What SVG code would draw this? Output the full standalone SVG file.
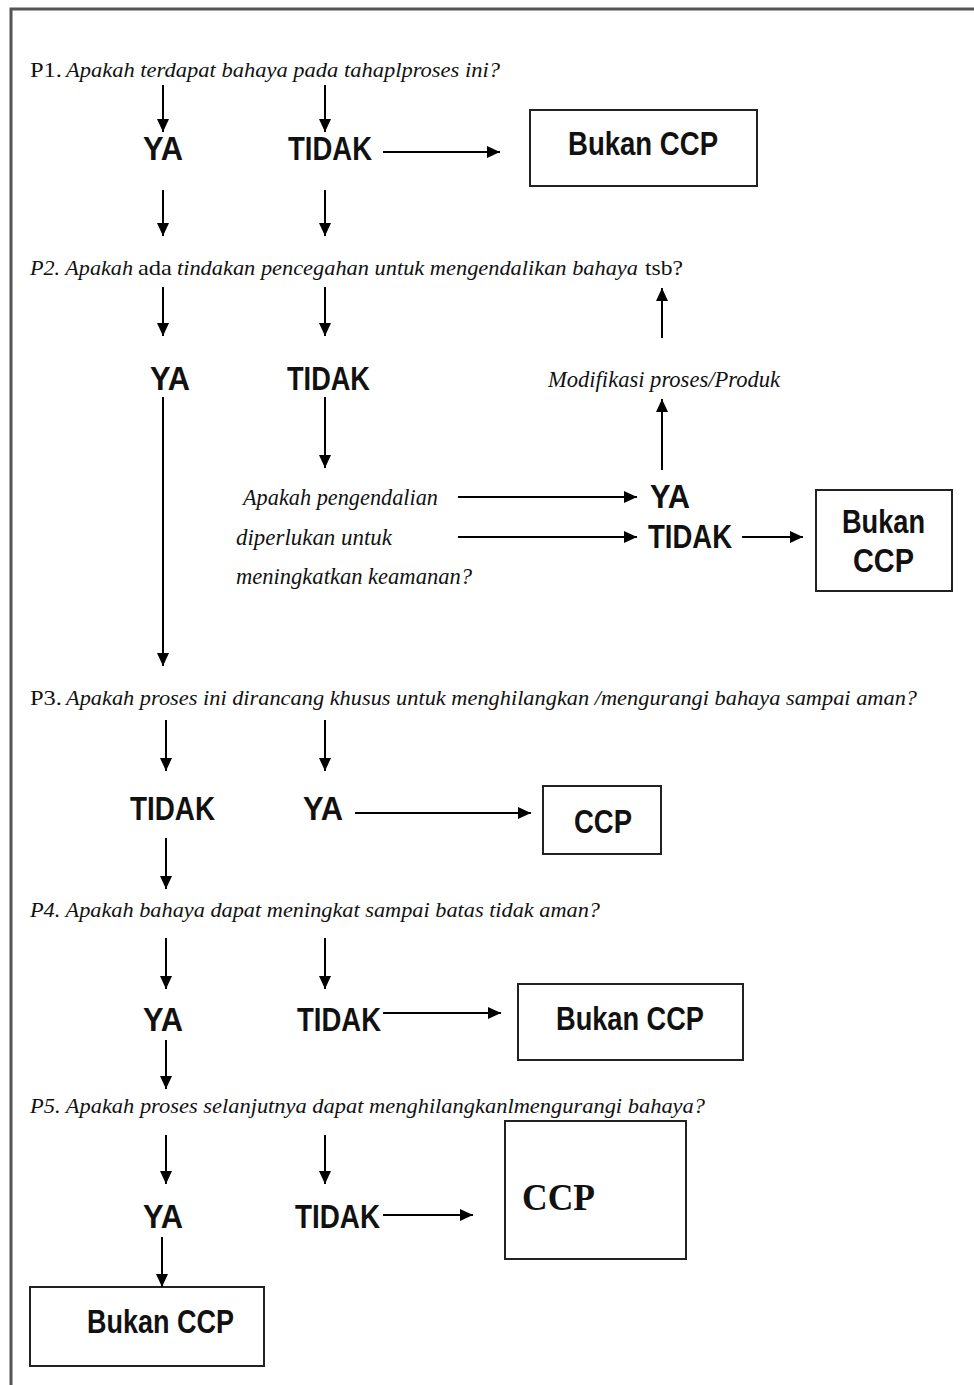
<svg xmlns="http://www.w3.org/2000/svg" width="974" height="1385" viewBox="0 0 974 1385">
<defs>
<marker id="ah" markerWidth="13" markerHeight="12" viewBox="0 0 13 12" refX="13" refY="6" orient="auto" markerUnits="userSpaceOnUse">
<path d="M0,0 L13,6 L0,12 Z" fill="#000"/>
</marker>
<style>
.q{font-family:"Liberation Serif",serif;font-style:italic;font-size:24px;fill:#111}
.s{font-size:22px}
.r{font-style:normal}
.b{font-family:"Liberation Sans",Arial,sans-serif;font-weight:bold;font-size:34px;fill:#111}
.box{fill:#fff;stroke:#222;stroke-width:2}
.c line{stroke:#000;stroke-width:2;marker-end:url(#ah)}
</style>
</defs>
<rect width="974" height="1385" fill="#fff"/>
<path d="M11,1385 V9 H974" fill="none" stroke="#555" stroke-width="3"/>

<g id="questions">
<g id="p1">
<text class="q s r" x="30" y="77" textLength="32" lengthAdjust="spacingAndGlyphs">P1.</text>
<text class="q s" x="66" y="77" textLength="434" lengthAdjust="spacingAndGlyphs">Apakah terdapat bahaya pada tahaplproses ini?</text>
</g>
<g id="p2">
<text class="q s" x="30" y="275" textLength="103" lengthAdjust="spacingAndGlyphs">P2. Apakah</text>
<text class="q s r" x="138" y="275" textLength="34" lengthAdjust="spacingAndGlyphs">ada</text>
<text class="q s" x="177" y="275" textLength="461" lengthAdjust="spacingAndGlyphs">tindakan pencegahan untuk mengendalikan bahaya</text>
<text class="q s r" x="645" y="275" textLength="38" lengthAdjust="spacingAndGlyphs">tsb?</text>
</g>
<g id="p3">
<text class="q s r" x="30" y="705" textLength="32" lengthAdjust="spacingAndGlyphs">P3.</text>
<text class="q s" x="66" y="705" textLength="851" lengthAdjust="spacingAndGlyphs">Apakah proses ini dirancang khusus untuk menghilangkan /mengurangi bahaya sampai aman?</text>
</g>
<text id="p4" class="q s" x="30" y="917" textLength="570" lengthAdjust="spacingAndGlyphs">P4. Apakah bahaya dapat meningkat sampai batas tidak aman?</text>
<text id="p5" class="q s" x="30" y="1113" textLength="675" lengthAdjust="spacingAndGlyphs">P5. Apakah proses selanjutnya dapat menghilangkanlmengurangi bahaya?</text>
</g>

<g id="sub-question">
<text class="q" x="243" y="505" textLength="195" lengthAdjust="spacingAndGlyphs">Apakah pengendalian</text>
<text class="q" x="236" y="545" textLength="156" lengthAdjust="spacingAndGlyphs">diperlukan untuk</text>
<text class="q" x="236" y="584" textLength="236" lengthAdjust="spacingAndGlyphs">meningkatkan keamanan?</text>
</g>
<g id="modifikasi">
<text class="q" x="548" y="387" textLength="232" lengthAdjust="spacingAndGlyphs">Modifikasi proses/Produk</text>
</g>

<g id="answers">
<text class="b" x="143" y="160" textLength="40" lengthAdjust="spacingAndGlyphs">YA</text>
<text class="b" x="288" y="160" textLength="84" lengthAdjust="spacingAndGlyphs">TIDAK</text>
<text class="b" x="150" y="390" textLength="40" lengthAdjust="spacingAndGlyphs">YA</text>
<text class="b" x="287" y="390" textLength="83" lengthAdjust="spacingAndGlyphs">TIDAK</text>
<text class="b" x="650" y="508" textLength="40" lengthAdjust="spacingAndGlyphs">YA</text>
<text class="b" x="648" y="548" textLength="84" lengthAdjust="spacingAndGlyphs">TIDAK</text>
<text class="b" x="130" y="820" textLength="85" lengthAdjust="spacingAndGlyphs">TIDAK</text>
<text class="b" x="303" y="820" textLength="40" lengthAdjust="spacingAndGlyphs">YA</text>
<text class="b" x="143" y="1031" textLength="40" lengthAdjust="spacingAndGlyphs">YA</text>
<text class="b" x="297" y="1031" textLength="84" lengthAdjust="spacingAndGlyphs">TIDAK</text>
<text class="b" x="143" y="1228" textLength="40" lengthAdjust="spacingAndGlyphs">YA</text>
<text class="b" x="295" y="1228" textLength="85" lengthAdjust="spacingAndGlyphs">TIDAK</text>
</g>

<g id="box1">
<rect class="box" x="530" y="110" width="227" height="76"/>
<text class="b" x="568" y="155" textLength="150" lengthAdjust="spacingAndGlyphs">Bukan CCP</text>
</g>
<g id="box2">
<rect class="box" x="816" y="490" width="136" height="101"/>
<text class="b" x="842" y="533" textLength="83" lengthAdjust="spacingAndGlyphs">Bukan</text>
<text class="b" x="853" y="572" textLength="61" lengthAdjust="spacingAndGlyphs">CCP</text>
</g>
<g id="box3">
<rect class="box" x="543" y="786" width="118" height="68"/>
<text class="b" x="574" y="833" textLength="58" lengthAdjust="spacingAndGlyphs">CCP</text>
</g>
<g id="box4">
<rect class="box" x="518" y="984" width="225" height="76"/>
<text class="b" x="556" y="1030" textLength="148" lengthAdjust="spacingAndGlyphs">Bukan CCP</text>
</g>
<g id="box5">
<rect class="box" x="505" y="1121" width="181" height="138"/>
<text x="522" y="1210" font-family="Liberation Serif, serif" font-weight="bold" font-size="38" fill="#111" textLength="73" lengthAdjust="spacingAndGlyphs">CCP</text>
</g>
<g id="box6">
<rect class="box" x="30" y="1287" width="234" height="79"/>
<text class="b" x="87" y="1333" textLength="147" lengthAdjust="spacingAndGlyphs">Bukan CCP</text>
</g>

<g id="connectors" class="c">
<line x1="163" y1="85" x2="163" y2="132"/>
<line x1="325" y1="85" x2="325" y2="132"/>
<line x1="383" y1="152" x2="500" y2="152"/>
<line x1="163" y1="190" x2="163" y2="236"/>
<line x1="325" y1="190" x2="325" y2="236"/>
<line x1="163" y1="287" x2="163" y2="336"/>
<line x1="325" y1="287" x2="325" y2="336"/>
<line x1="662" y1="338" x2="662" y2="288"/>
<line x1="662" y1="470" x2="662" y2="399"/>
<line x1="325" y1="397" x2="325" y2="468"/>
<line x1="163" y1="397" x2="163" y2="666"/>
<line x1="458" y1="497" x2="637" y2="497"/>
<line x1="458" y1="537" x2="637" y2="537"/>
<line x1="742" y1="537" x2="803" y2="537"/>
<line x1="166" y1="720" x2="166" y2="771"/>
<line x1="325" y1="720" x2="325" y2="771"/>
<line x1="355" y1="813" x2="531" y2="813"/>
<line x1="166" y1="838" x2="166" y2="889"/>
<line x1="166" y1="938" x2="166" y2="989"/>
<line x1="325" y1="938" x2="325" y2="989"/>
<line x1="383" y1="1013" x2="501" y2="1013"/>
<line x1="166" y1="1040" x2="166" y2="1089"/>
<line x1="166" y1="1135" x2="166" y2="1184"/>
<line x1="325" y1="1135" x2="325" y2="1184"/>
<line x1="383" y1="1215" x2="473" y2="1215"/>
<line x1="162" y1="1237" x2="162" y2="1287"/>
</g>
</svg>
